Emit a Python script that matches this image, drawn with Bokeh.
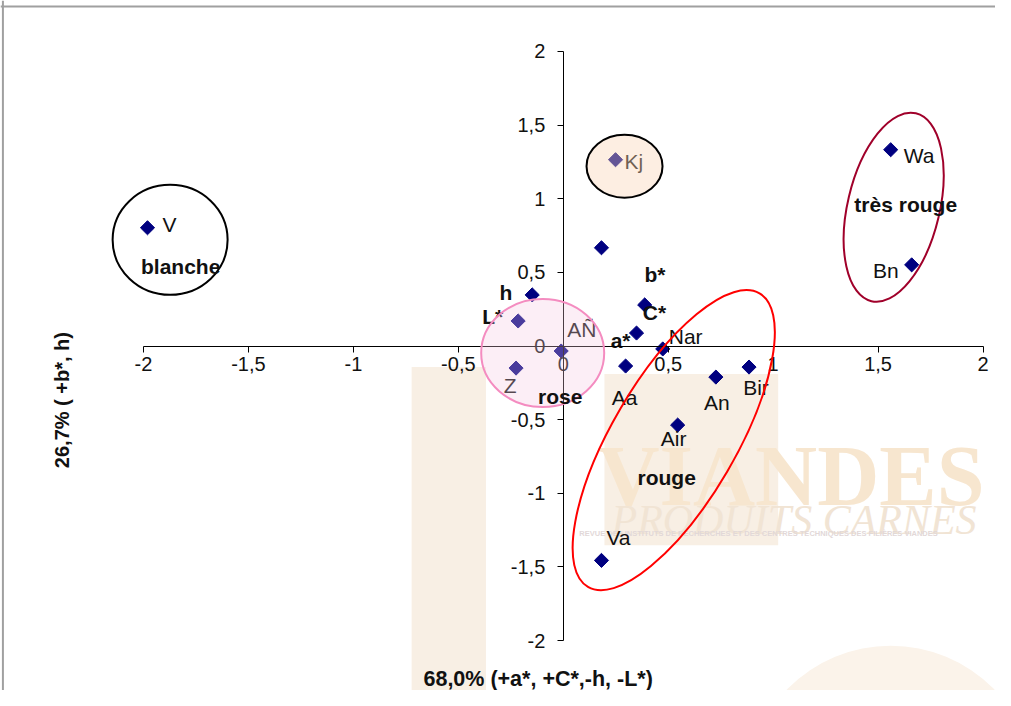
import math
from bokeh.plotting import figure
from bokeh.models import FixedTicker, Range1d, Span
from bokeh.core.properties import value
from bokeh.embed import file_html
from bokeh.resources import INLINE

# ---------------- data ----------------
names = ["V", "Kj", "Wa", "Bn", "b*", "h", "L*", "C*", "a*", "Nar", "AÑ", "Z",
         "Aa", "An", "Bir", "Air", "Va"]
dim1 = [-1.981, 0.249, 1.560, 1.660, 0.182, -0.148, -0.215, 0.388, 0.349, 0.474,
        -0.010, -0.225, 0.297, 0.727, 0.885, 0.545, 0.182]
dim2 = [0.803, 1.265, 1.333, 0.551, 0.667, 0.347, 0.170, 0.279, 0.088, -0.020,
        -0.034, -0.150, -0.136, -0.211, -0.143, -0.537, -1.456]
bold_names = ["b*", "h", "L*", "C*", "a*"]
tick_values = [-2.0, -1.5, -1.0, -0.5, 0.0, 0.5, 1.0, 1.5, 2.0]
tick_labels = ["-2", "-1,5", "-1", "-0,5", "0", "0,5", "1", "1,5", "2"]
x_title = "68,0% (+a*, +C*,-h, -L*)"
y_title = "26,7% ( +b*, h)"
group_names = ["blanche", "très rouge", "rouge", "rose"]

# ---------------- layout helpers (picture pixel -> data) ----------------
X0_PX, XS = 564.0, 209.0
Y0_PX, YS = 346.0, 147.0
W, H = 995, 690
FRAME_L, FRAME_R = 3.6, 994.4
FRAME_T, FRAME_B = 1.1, 689.9


def px(xp):
    return (xp - X0_PX) / XS


def py(yp):
    return (Y0_PX - yp) / YS


FONT = value("Liberation Sans")

p = figure(width=W, height=H,
           x_range=Range1d(px(FRAME_L), px(FRAME_R)),
           y_range=Range1d(py(FRAME_B), py(FRAME_T)),
           output_backend="svg", toolbar_location=None, min_border=0)
p.outline_line_color = None
p.grid.visible = False
p.background_fill_color = "white"
p.border_fill_color = "white"

# ---------------- watermark background ----------------
p.quad(left=[px(413), px(605)], right=[px(487), px(778)],
       top=[py(367), py(374)], bottom=[py(720), py(545)],
       fill_color="#F8EFE4", line_color=None, level="underlay")
p.ellipse(x=[px(890)], y=[py(790)], width=[290], height=[290],
          width_units="screen", height_units="screen",
          fill_color="#FBF3EA", line_color=None, level="underlay")
p.text(x=[px(598)], y=[py(476)], text=["VIANDES"], text_font=value("Liberation Serif"),
       text_font_size="86px", text_font_style="bold", text_color="#F7E6CF",
       text_align="left", text_baseline="alphabetic", level="underlay")
p.text(x=[px(612)], y=[py(520)], text=["PRODUITS CARNES"], text_font=value("Liberation Serif"),
       text_font_size="42px", text_font_style="italic", text_color="#F1E4D4",
       text_align="left", text_baseline="alphabetic", level="underlay")
p.text(x=[px(580)], y=[py(533)],
       text=["REVUE DES INSTITUTS DE RECHERCHES ET DES CENTRES TECHNIQUES DES FILIÈRES VIANDES"],
       text_font=FONT, text_font_size="7.5px", text_font_style="bold", text_color="#E2D8D8",
       text_align="left", text_baseline="middle", level="underlay")

# frame lines
p.add_layout(Span(location=py(7), dimension="width", line_color="#A0A0A0", line_width=2))
p.add_layout(Span(location=px(6), dimension="height", line_color="#A0A0A0", line_width=2))

# ---------------- points ----------------
p.scatter(dim1, dim2, marker="square", angle=math.pi / 4, size=10,
          fill_color="#000080", line_color="#000080")

# label offsets (screen px): align, dx, dy
label_pos = {
    "V": ("left", 15, -3), "Kj": ("left", 9, 2), "Wa": ("left", 13, 6),
    "Bn": ("right", -13, 6), "b*": ("left", 43, 27), "h": ("right", -20, -2),
    "L*": ("right", -15, -4), "C*": ("left", -2, 8), "a*": ("right", -6, 7),
    "Nar": ("left", 6, -12), "AÑ": ("left", 6, -22), "Z": ("center", -6, 17),
    "Aa": ("center", -1, 31), "An": ("center", 1, 25), "Bir": ("center", 7, 20),
    "Air": ("center", -4, 13), "Va": ("center", 17, -23),
}
for style in ("normal", "bold"):
    for align in ("left", "center", "right"):
        idx = [i for i, n in enumerate(names)
               if label_pos[n][0] == align and ((n in bold_names) == (style == "bold"))]
        if not idx:
            continue
        p.text(x=[dim1[i] for i in idx], y=[dim2[i] for i in idx],
               text=[names[i] for i in idx],
               x_offset=[label_pos[names[i]][1] for i in idx],
               y_offset=[label_pos[names[i]][2] for i in idx],
               text_align=align, text_baseline="middle", text_font=FONT,
               text_font_size="21px", text_font_style=style, text_color="#111111")

# ---------------- axes crossing at the origin ----------------
for ax in (p.xaxis[0], p.yaxis[0]):
    ax.fixed_location = 0
    ax.ticker = FixedTicker(ticks=tick_values)
    ax.major_label_overrides = dict(zip(tick_values, tick_labels))
    ax.bounds = (-2, 2)
    ax.minor_tick_line_color = None
    ax.major_tick_in = 0
    ax.major_tick_out = 6
    ax.axis_line_color = "black"
    ax.major_tick_line_color = "black"
    ax.major_label_text_font = "Liberation Sans"
    ax.major_label_text_font_size = "20px"
    ax.major_label_text_color = "#111111"
p.xaxis[0].major_label_standoff = 5
p.yaxis[0].major_label_standoff = 12

# axis titles
p.text(x=[px(539)], y=[py(678)], text=[x_title], text_align="center", text_baseline="middle",
       text_font=FONT, text_font_size="21.5px", text_font_style="bold", text_color="#111111")
p.text(x=[px(65)], y=[py(400)], text=[y_title], angle=math.pi / 2, text_align="center",
       text_baseline="middle", text_font=FONT, text_font_size="20px", text_font_style="bold",
       text_color="#111111")

# ---------------- group ellipses ----------------
# centre (picture px), width, height (screen px), angle (deg), line colour, fill colour, fill alpha
ell = [
    ((172.5, 240), 115, 110, 0, "#000000", None, 0.0),
    ((625, 166.5), 76, 63, 0, "#000000", "#FAD4B6", 0.4),
    ((543.5, 353), 123, 108, 0, "#F48CC0", "#F5C6E1", 0.3),
    ((674, 440), 340, 124, 59.7, "#FF0000", None, 0.0),
    ((893, 207.5), 193, 92, 76.7, "#A0002A", None, 0.0),
]
for (cx, cy), w, h, a, lc, fc, fa in ell:
    p.ellipse(x=[px(cx)], y=[py(cy)], width=[w], height=[h], angle=[math.radians(a)],
              width_units="screen", height_units="screen",
              line_color=lc, line_width=2, fill_color=fc, fill_alpha=fa, level="annotation")

group_pos = [(183, 267), (905, 205), (667, 477), (561, 396)]
p.text(x=[px(g[0]) for g in group_pos], y=[py(g[1]) for g in group_pos], text=group_names,
       text_align="center", text_baseline="middle", text_font=FONT, text_font_size="21px",
       text_font_style="bold", text_color="#111111", level="overlay")

open("out.html", "w").write(file_html(p, INLINE))
